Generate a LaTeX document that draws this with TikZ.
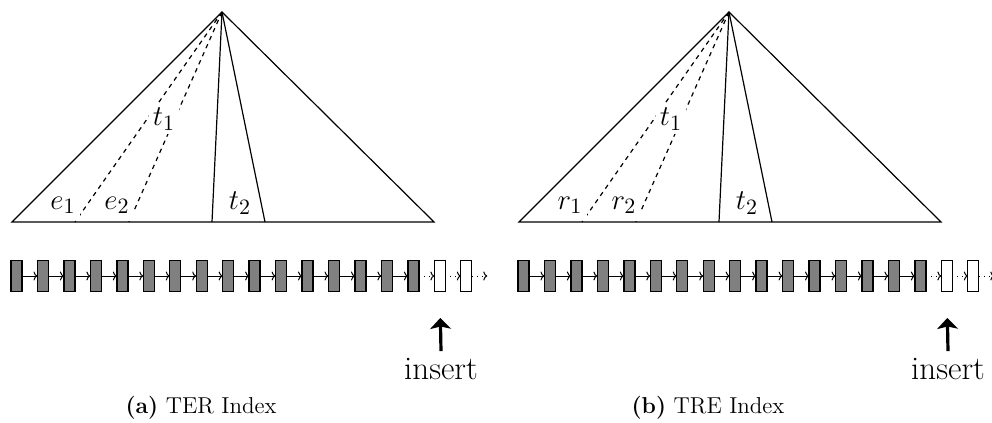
\documentclass[tikz,border=0pt]{standalone}
\usepackage{amsmath,amssymb}
\usepackage{xcolor}
\usepackage{tikz}
\usetikzlibrary{arrows.meta, positioning}

\begin{document}
\begin{tikzpicture}[
    x=0.5pt, y=-0.5pt,
    node distance=7.73pt,
    blk/.style={draw, rectangle, fill=gray, minimum width=5.5pt, minimum height=15.5pt, inner sep=0pt, outer sep=0pt, line width=0.7pt},
    freeblk/.style={blk, fill=white, line width=0.5pt},
    link/.style={-{To[length=2pt, width=4.5pt]}, line width=0.5pt},
    ptr/.style={-{Stealth[length=5.5pt, width=10.5pt, inset=1.2pt]}, line width=1.6pt},
    lbl/.style={fill=white, inner sep=2.2pt, font=\fontsize{15.5}{18}\selectfont},
    edge/.style={line width=0.6pt},
    split/.style={line width=0.6pt, dash pattern=on 2.2pt off 2.2pt}
]
\useasboundingbox (0,0) rectangle (992,423);

\foreach \p/\dx/\leaf/\idx/\lab in {a/0/e/TER/a, b/507/r/TRE/b} {
\begin{scope}[xshift=\dx*0.5pt]
% the tree
\coordinate (\p-top) at (222,12);
\coordinate (\p-bl) at (12,222);
\coordinate (\p-br) at (434,222);
\coordinate (\p-d1) at (75,222);
\coordinate (\p-d2) at (129,222);
\coordinate (\p-s1) at (212,222);
\coordinate (\p-s2) at (265,222);
\draw [split] (\p-top) -- (\p-d1);
\draw [split] (\p-top) -- (\p-d2);
\draw [edge] (\p-top) -- (\p-s1);
\draw [edge] (\p-top) -- (\p-s2);
\node (\p-t1) [lbl] at (164,119) {$t_1$};
\node (\p-l1) [lbl] at (63,205) {$\leaf_1$};
\node (\p-l2) [lbl] at (117,205) {$\leaf_2$};
\node (\p-t2) [lbl] at (240,203) {$t_2$};
\draw [edge] (\p-bl) -- (\p-top) -- (\p-br) -- cycle;

% the log
\node (\p-n1) [blk] at (16.5,276) {};
\foreach \i [count=\j from 2] in {1,...,15}
    \node (\p-n\j) [blk, right=of \p-n\i] {};
\node (\p-n17) [freeblk, right=of \p-n16] {};
\node (\p-n18) [freeblk, right=of \p-n17] {};
\coordinate [right=of \p-n18] (\p-end);
\foreach \i [count=\j from 2] in {1,...,15}
    \draw [link] (\p-n\i) -- (\p-n\j);
\draw [link, dotted] (\p-n16) -- (\p-n17);
\draw [link, dotted] (\p-n17) -- (\p-n18);
\draw [link, dotted] (\p-n18) -- (\p-end);

\node (\p-ins) [font=\fontsize{16.5}{19}\selectfont] at (441,369) {insert};
\draw [ptr, shorten >=13.2pt] (\p-ins.north) -- (\p-n17.south);

\node (\p-cap) [font=\fontsize{11.5}{13}\selectfont] at (201,408) {\textbf{(\lab)} \idx\ Index};
\end{scope}
}

\end{tikzpicture}
\end{document}
